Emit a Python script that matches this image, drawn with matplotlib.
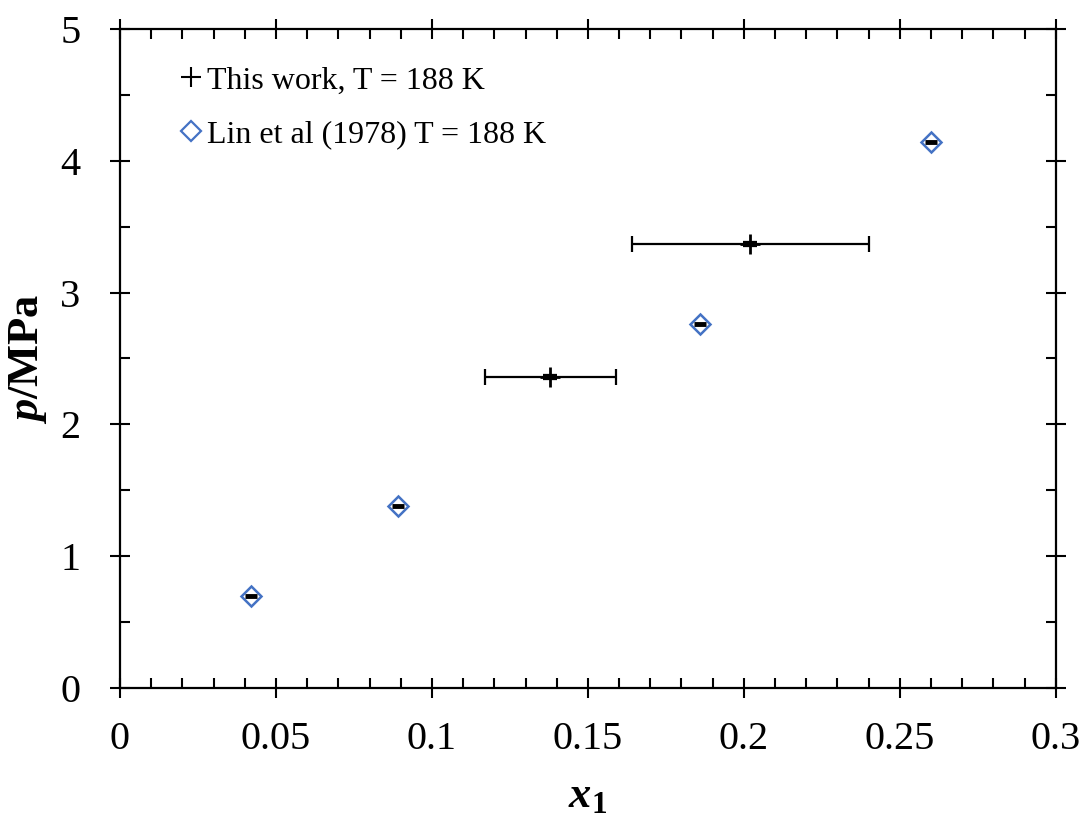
import matplotlib
matplotlib.use("Agg")
import matplotlib.pyplot as plt
from matplotlib.ticker import MultipleLocator
from matplotlib.lines import Line2D

plt.rcParams['font.family'] = ['Liberation Serif', 'DejaVu Serif']
plt.rcParams['mathtext.fontset'] = 'custom'
plt.rcParams['mathtext.rm'] = 'Liberation Serif'
plt.rcParams['mathtext.it'] = 'Liberation Serif:italic'
plt.rcParams['mathtext.bf'] = 'Liberation Serif:bold'
plt.rcParams['mathtext.bfit'] = 'Liberation Serif:bold:italic'

# This work
tw_x = [0.138, 0.202]
tw_p = [2.36, 3.37]
tw_xlo = [0.117, 0.164]
tw_xhi = [0.159, 0.240]

# Lin et al (1978)
lin_x = [0.042, 0.089, 0.186, 0.260]
lin_p = [0.70, 1.38, 2.76, 4.14]

xticks = [0, 0.05, 0.1, 0.15, 0.2, 0.25, 0.3]
xticklabels = ['0', '0.05', '0.1', '0.15', '0.2', '0.25', '0.3']
yticks = [0, 1, 2, 3, 4, 5]

blue = '#4472C4'

fig = plt.figure(figsize=(10.84, 8.18), dpi=100)
ax = fig.add_axes([0.1107, 0.159, 0.8633, 0.8055])

xerr = [[x - lo for x, lo in zip(tw_x, tw_xlo)], [hi - x for x, hi in zip(tw_x, tw_xhi)]]
ax.errorbar(tw_x, tw_p, xerr=xerr, fmt='none', ecolor='black', elinewidth=1.6,
            capsize=6, capthick=1.6, zorder=3)
ax.plot(tw_x, tw_p, linestyle='none', marker='+', color='black', markersize=15,
        markeredgewidth=2, zorder=4)
ax.plot(tw_x, tw_p, linestyle='none', marker='_', color='black', markersize=10,
        markeredgewidth=4.5, zorder=4)

ax.plot(lin_x, lin_p, linestyle='none', marker='D', markerfacecolor='none',
        markeredgecolor=blue, markersize=10.5, markeredgewidth=1.8, zorder=3)
ax.plot(lin_x, lin_p, linestyle='none', marker='_', color='black', markersize=9,
        markeredgewidth=3.5, zorder=4)

ax.set_xlim(0, 0.3)
ax.set_ylim(0, 5)
ax.set_xticks(xticks)
ax.set_xticklabels(xticklabels)
ax.set_yticks(yticks)
ax.xaxis.set_minor_locator(MultipleLocator(0.01))
ax.yaxis.set_minor_locator(MultipleLocator(0.5))

for s in ax.spines.values():
    s.set_linewidth(1.6)

ax.tick_params(which='major', direction='inout', length=15, width=1.5,
               labelsize=29, top=True, right=True)
ax.tick_params(axis='x', which='major', pad=16)
ax.tick_params(axis='y', which='major', pad=21)
ax.tick_params(which='minor', direction='in', length=7.5, width=1.5,
               top=True, right=True)

ax.set_xlabel(r'$\mathbfit{x}_{\mathbf{1}}$', fontsize=32, labelpad=13)
ax.set_ylabel(r'$\mathbfit{p}$$\mathbf{/MPa}$', fontsize=32, labelpad=8)

handles = [
    Line2D([], [], linestyle='none', marker='+', color='black', markersize=14, markeredgewidth=1.5),
    Line2D([], [], linestyle='none', marker='D', markerfacecolor='none',
           markeredgecolor=blue, markersize=10, markeredgewidth=1.6),
]
labels = ['This work, T = 188 K', 'Lin et al (1978) T = 188 K']
ax.legend(handles, labels, loc='upper left', frameon=False, fontsize=23,
          handlelength=0.6, handletextpad=0.2, labelspacing=0.75,
          borderaxespad=0.0, bbox_to_anchor=(0.052, 0.963))

fig.savefig('out.png', dpi=100)
